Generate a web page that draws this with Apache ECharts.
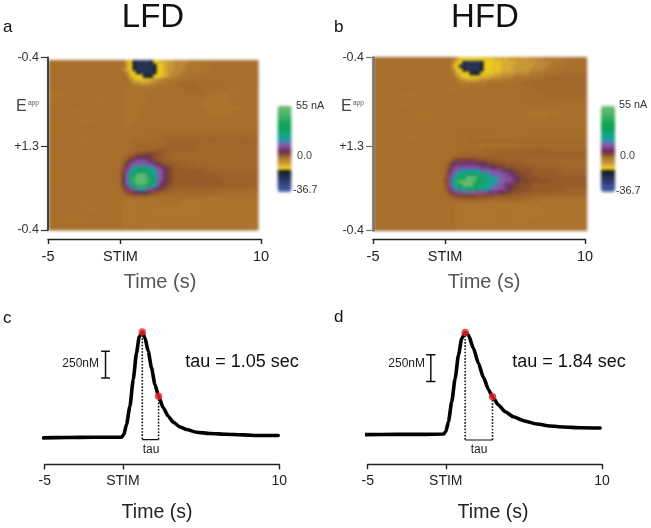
<!DOCTYPE html>
<html><head><meta charset="utf-8">
<script src="https://cdn.jsdelivr.net/npm/echarts@6/dist/echarts.min.js"></script>
<style>
html,body{margin:0;padding:0;background:#fff;width:651px;height:528px;overflow:hidden}
#heat,#main{position:absolute;left:0;top:0;width:651px;height:528px}
#heat{filter:blur(1.5px)}
</style></head><body>
<div id="heat"></div><div id="main"></div>
<script>
// Level code -> current (nA), read against the colour bar
var levelValues = {a:-1,b:-0.5,c:0,d:0.3,e:0.8,f:1.3,g:1.9,h:2.8,i:4,j:6,k:8.5,l:11,m:14,n:20,o:25,p:32,q:42,r:52,
                   U:-3.5,V:-6,W:-8,X:-10,Y:-12,K:-15,N:-22};
// Colour plot rows, top to bottom, run-length coded (60 cells per row)
var heatRowsLFD = [
'c22W1Y1K1N4K1Y1X1W2V2U4a4b3c13','c22V1Y1K1N5K1Y1X1W1V2U3a4b3c14','c21U1W1Y1K1N5K1Y1X1W1V2U3a4b3c14','c22U1X1Y1K1N4K1Y1X1W1V1U3a3b4c15',
'c22a1W1X1Y2K3Y2X1W1V1U2a3b3c4d13','c23U1W1X4W1V1U2a3b3d17','c23a1U2V3U2a3b3e5d18','c24a5b3c6e5d17',
'c21b8c10e5d8b3c5','b4c17b6c12d6c3b4c8','c21b7c14d4b6c8','c13b3c5b7c12d4b8c8',
'c21b6c16b10c7','c21b5c14d4b12c4','c6b4c11b5c14d5b8c7','c21b5c15d5b6c8',
'c21b4c35','c8b5c8b4c35','c21b3d6c15d15','c26d34',
'c21d39','c25d6e29','c8b4c9d12e12f3e12','c21d3e10f10e10f6',
'c21d4e7f10e18','c22d2e4f3g3f8e18','c21d2e1f1h2i3h2g1f2e25','c21e1f1h1i1j4i1h1g2f2e25',
'c21f1h1j1k1l3k1j1i1h1g3f6e20','c21g1j1l1m5l1k1j1i1h1g3f5e18','c20e1h1k1m1n1o4n1m1l1k1j1i1h1g4f8e12','c20e1i1l1n1o1p3o2n1m1l1j1i1h1g8f8e6',
'c20e1j1m1o1p1r3p1o1n1m1l1j1i1h1g12f12','c20e1j1m1o1q1r3q1p1o1m1l1j1i1h1g14f10','c20e1j1m1o1q1r3q1p1o1m1k1j1i1h1g14f10','c20e1i1l1n1p1q3p1o1n1l1j1i1h1g16f8',
'c21h1k1l1m1n3m1l1k1j1i1h1g2f12e13','c21e1h1i1j5i1h1g1f2e15d8','c22d1e1f4e1d31','c21b10c8b6a6b9',
'c8b3c10b1a3b7c6a6b15','c21b1a5b6a10b17','c10b4c7a6b4a15b14','c21a4b3a5b5a6b16',
'c21a5b5a8b21','c5b6c10a6b24a9','c21b6a4b29','c21b39'];
var heatRowsHFD = [
'c22a1V1X1Y6X3W4V6U4a4b2c6','c22U1X1Y1K1N4K1Y2X3W4V6U4a4b2c5','c21a1W1Y1K1N5K1Y2X3W3V6U4a3b3c5','c22U1X1Y1K1N4K1Y1X4W3V5U4a3b3c6',
'c22a1W1X1Y2K3Y1X3W2V4U4a4b3d8','c23U1W1X1Y1X3W3V3U3a4b5e12','c23a1U2V3U3a4b4c4e13','c24a3b5c10e18',
'c21b3c15d6e15','c21b2c16d7e14','c8b4c9c18d9e12','c21c18d21',
'c21c20d19','c6b3c12c20d15c4','c21c39','c21c22b10c7',
'c12b4c5c22b6c11','c21c39','c21c6d8c25','c21d39',
'c21d14c8d17','c21d39','c9b3c9d39','c21d6e33',
'c21d8b12d19','c21d10e12f7e10','c21d3e10f26','c21d1e3f35',
'c21f1h1i6h3g4f6e17','c20e1h1j1k6j3i2h3g5f4e14','c20e1i1k1l7k3j2i2h3g6f8e6','c20f1j1l1m1n6m3l3k1j2i2h3g7f6',
'c20g1k1m1n1o2p3o3n1m3l2k1j1i2h3g8f4','c20h1l1n1o1p2r3p2o2n2m2l2k1j1i2h4g10','c19e1i1l1o1q1r4q1p2o2n2m2l2k1j1i3h6g10','c20h1l1n1o1p1r3p2o2n2m2l1k1j1i2h4g12',
'c20g1k1m1n1o2p3o2n2m2l2k1j1i2h3g10f6','c20f1i1k1l2m4l3k3j2i2h3g8f8','c21f1h1i6h5g5f6e15','c21d1e2f8e10d5b12',
'c21d2b8a6b8a6b14','c21c2a8b4a12b13','c10d4c7d2a10b5a10b11','c21d2b4a8b6a6b13',
'c21d2a12b5a8b10','c5d8c8d2b6a12b15','c21d2a6b10a4b15','c21d2b37'];
var timeTicksHeat = [-5, 0.1, 10];
var timeTicksTrace = [-5, 0, 10];
var timeLabelStim = 'STIM';
var eappTicks = [0, 0.485, 1];
var eappLabels = ['-0.4', '+1.3', '-0.4'];
// Concentration traces: [time s, nM above baseline]
var traceLFD = [[-5.09,0],[-3.6,3],[-1.9,6],[-0.09,6],[0.06,31],[0.23,125],[0.45,296],[0.66,546],[0.87,796],[1.04,945],[1.24,992],[1.41,936],[1.62,811],[1.83,655],[2.05,499],[2.28,390],[2.58,281],[2.9,203],[3.22,147],[3.64,103],[4.07,78],[4.71,53],[5.56,41],[6.63,34],[7.69,28],[8.76,22],[9.93,22]];
var traceHFD = [[-5.16,0],[-3.14,3],[-1.43,3],[-0.15,6],[0,28],[0.17,122],[0.38,309],[0.6,527],[0.81,746],[1.02,902],[1.24,958],[1.45,933],[1.77,809],[2.09,668],[2.41,537],[2.73,424],[2.99,356],[3.37,278],[3.8,215],[4.33,168],[4.97,131],[5.83,100],[6.68,81],[7.53,72],[8.6,65],[9.88,62]];
var tauPointsLFD = [[1.24,992],[2.28,390]];
var tauPointsHFD = [[1.24,958],[2.99,356]];
var tauBracketLFD = -16, tauBracketHFD = -50;
var scaleBarLFD = {t:-1.11, hi:811, lo:561, cap:0.28};
var scaleBarHFD = {t:-0.96, hi:749, lo:499, cap:0.3};

var colorStops = [[-36.7,'#4a64a8'],[-31,'#3a4e92'],[-24,'#2a3668'],[-18.6,'#1c2a3a'],[-13.5,'#14181a'],[-13,'#f6d818'],[-10,'#e8c428'],[-7,'#cf9f34'],[-4,'#bc8a36'],[-2,'#b27c32'],[0,'#a8702c'],[1.5,'#9c6029'],[3,'#8a4f2a'],[4.5,'#764030'],[6,'#62305a'],[8,'#6a3478'],[11,'#8a4a9c'],[14,'#7d62a8'],[17,'#3f8fa8'],[20.7,'#14a0a0'],[24,'#14a488'],[29,'#0fa060'],[36.6,'#10a654'],[43,'#3cb064'],[50,'#60b870'],[55,'#6cbb78']];
function hex2(c){return [1,3,5].map(function(i){return parseInt(c.substr(i,2),16);});}
var palette=(function(){var out=[],n=184;for(var i=0;i<=n;i++){var v=-36.7+91.7*i/n,k=0;while(k<colorStops.length-2&&v>colorStops[k+1][0])k++;
 var a=colorStops[k],b=colorStops[k+1],t=Math.max(0,Math.min(1,(v-a[0])/(b[0]-a[0]))),ca=hex2(a[1]),cb=hex2(b[1]);
 out.push('rgb('+ca.map(function(x,j){return Math.round(x+(cb[j]-x)*t);}).join(',')+')');}return out;})();
function decode(rows){var data=[];rows.forEach(function(row,y){var x=0,last='c';row.replace(/([A-Za-z])(\d+)/g,function(_,ch,n){for(var i=0;i<+n&&x<60;i++)data.push([x++,y,levelValues[ch]]);last=ch;return '';});while(x<60)data.push([x++,y,levelValues[last]]);});return data;}
var cols=[],rowsIdx=[];for(var i=0;i<60;i++)cols.push(i);for(i=0;i<48;i++)rowsIdx.push(i);
var FONT='"Liberation Sans",Arial,sans-serif';
var heat=echarts.init(document.getElementById('heat'),null,{renderer:'canvas'});
function heatAxes(n){return {x:{type:'category',gridIndex:n,data:cols,show:false},y:{type:'category',gridIndex:n,data:rowsIdx,inverse:true,show:false}};}
var ha=heatAxes(0),hb=heatAxes(1);
function vm(i,left){return {type:'continuous',seriesIndex:i,dimension:2,min:-36.7,max:55,calculable:false,hoverLink:false,realtime:false,showLabel:false,text:['',''],padding:0,left:left,top:105.7,itemWidth:14,itemHeight:86.3,inRange:{color:palette},textStyle:{fontSize:1}};}
heat.setOption({animation:false,backgroundColor:'transparent',
 grid:[{left:49,top:60.5,width:209,height:169.5,show:true,borderColor:'#8f8a80',borderWidth:1,backgroundColor:'#a8702c'},
       {left:374,top:57.5,width:212.7,height:173,show:true,borderColor:'#8f8a80',borderWidth:1,backgroundColor:'#a8702c'}],
 xAxis:[ha.x,hb.x],yAxis:[ha.y,hb.y],
 visualMap:[vm(0,277.5),vm(1,601)],
 series:[{type:'heatmap',xAxisIndex:0,yAxisIndex:0,data:decode(heatRowsLFD),progressive:0,silent:true},
         {type:'heatmap',xAxisIndex:1,yAxisIndex:1,data:decode(heatRowsHFD),progressive:0,silent:true}]});

var main=echarts.init(document.getElementById('main'),null,{renderer:'canvas'});
function xAx(g,ticks,offset,color,w,size,margin){return {type:'value',gridIndex:g,min:-5,max:10,position:'bottom',offset:offset,splitLine:{show:false},
 axisLine:{show:true,onZero:false,lineStyle:{color:color,width:w}},
 axisTick:{show:true,customValues:ticks,length:5,lineStyle:{color:color,width:w}},
 axisLabel:{show:true,customValues:ticks,margin:margin,fontFamily:FONT,fontSize:size,color:'#222',hideOverlap:false,formatter:function(v){return v===-5?'-5':v===10?'10':timeLabelStim;}}};}
function yHeat(g,color,w){return {type:'value',gridIndex:g,min:0,max:1,position:'left',splitLine:{show:false},
 axisLine:{show:true,onZero:false,lineStyle:{color:color,width:w}},
 axisTick:{show:true,customValues:eappTicks,length:7,lineStyle:{color:color,width:1.2}},
 axisLabel:{show:true,customValues:eappTicks,margin:9,fontFamily:FONT,fontSize:12.5,color:'#333',hideOverlap:false,formatter:function(v){return eappLabels[eappTicks.indexOf(v)];}}};}
function yTrace(g,min,max){return {type:'value',gridIndex:g,min:min,max:max,show:false,splitLine:{show:false}};}
function traceSeries(g,trace,tau,bracket,bar){var s=[];
 var base={xAxisIndex:g,yAxisIndex:g,silent:true,clip:false,showSymbol:false,symbol:'none',animation:false};
 function L(data,style,extra){return Object.assign({type:'line',data:data,lineStyle:style},base,extra||{});}
 s.push(L(trace,{color:'#000',width:3.6,cap:'round',join:'round'},{smooth:0.2,smoothMonotone:'x'}));
 s.push(L([tau[0],[tau[0][0],bracket]],{color:'#111',width:1.6,type:'dotted'}));
 s.push(L([tau[1],[tau[1][0],bracket]],{color:'#111',width:1.6,type:'dotted'}));
 s.push(L([[tau[0][0],bracket],[tau[1][0],bracket]],{color:'#111',width:1.2}));
 s.push(L([[bar.t-bar.cap,bar.hi],[bar.t+bar.cap,bar.hi],[bar.t,bar.hi],[bar.t,bar.lo],[bar.t-bar.cap,bar.lo],[bar.t+bar.cap,bar.lo]],{color:'#111',width:1.5}));
 s.push({type:'scatter',xAxisIndex:g,yAxisIndex:g,data:tau,symbolSize:7.5,itemStyle:{color:'#e5242c'},silent:true,clip:false,z:5});
 return s;}
function T(x,y,text,size,color,align,extra){return Object.assign({type:'text',x:x,y:y,silent:true,style:{text:text,fontFamily:FONT,fontSize:size,fill:color,align:align||'center',verticalAlign:'middle'}},extra||{});}
function eapp(x,y){return [T(x,y,'E',16,'#444','left'),T(x+12,y-3.5,'app',6.5,'#555','left')];}
main.setOption({animation:false,backgroundColor:'transparent',
 grid:[{left:48,top:57.5,width:213,height:172.5},{left:373,top:57.5,width:212,height:173},
       {left:44.7,top:320.4,width:234.6,height:119.6},{left:367.7,top:320,width:234.3,height:120}],
 xAxis:[xAx(0,timeTicksHeat,9,'#222',1.4,14.5,10),xAx(1,timeTicksHeat,8.5,'#222',1.4,14.5,10),xAx(2,timeTicksTrace,24.5,'#222',1.4,14,10),xAx(3,timeTicksTrace,24.2,'#222',1.4,14,10)],
 yAxis:[yHeat(0,'#333',1.8),yHeat(1,'#777',2.6),yTrace(2,-20,1100),yTrace(3,-50,1075)],
 series:traceSeries(2,traceLFD,tauPointsLFD,tauBracketLFD,scaleBarLFD).concat(traceSeries(3,traceHFD,tauPointsHFD,tauBracketHFD,scaleBarHFD)),
 graphic:[
  T(153,18,'LFD',33,'#111'),T(485,18,'HFD',33,'#111'),
  T(3,27,'a',17,'#111','left'),T(334,27,'b',17,'#111','left'),T(3,318,'c',17,'#111','left'),T(334,317,'d',17,'#111','left'),
  T(160,282,'Time (s)',20,'#555'),T(484,282,'Time (s)',20,'#555'),
  T(157,513,'Time (s)',19.5,'#222'),T(493,513,'Time (s)',19.5,'#222'),
  T(296,106,'55 nA',10.8,'#333','left'),T(297,156,'0.0',10.8,'#444','left'),T(293,190,'-36.7',10.8,'#333','left'),
  T(619,105,'55 nA',10.8,'#333','left'),T(620,156,'0.0',10.8,'#444','left'),T(616,191,'-36.7',10.8,'#333','left'),
  T(99,364,'250nM',12,'#222','right'),T(425,364,'250nM',12,'#222','right'),
  T(151,450,'tau',12,'#222'),T(479,450,'tau',12,'#222'),
  T(242,362,'tau = 1.05 sec',18,'#111'),T(569,362,'tau = 1.84 sec',18,'#111')
 ].concat(eapp(16,107),eapp(341,107))
});
</script></body></html>
